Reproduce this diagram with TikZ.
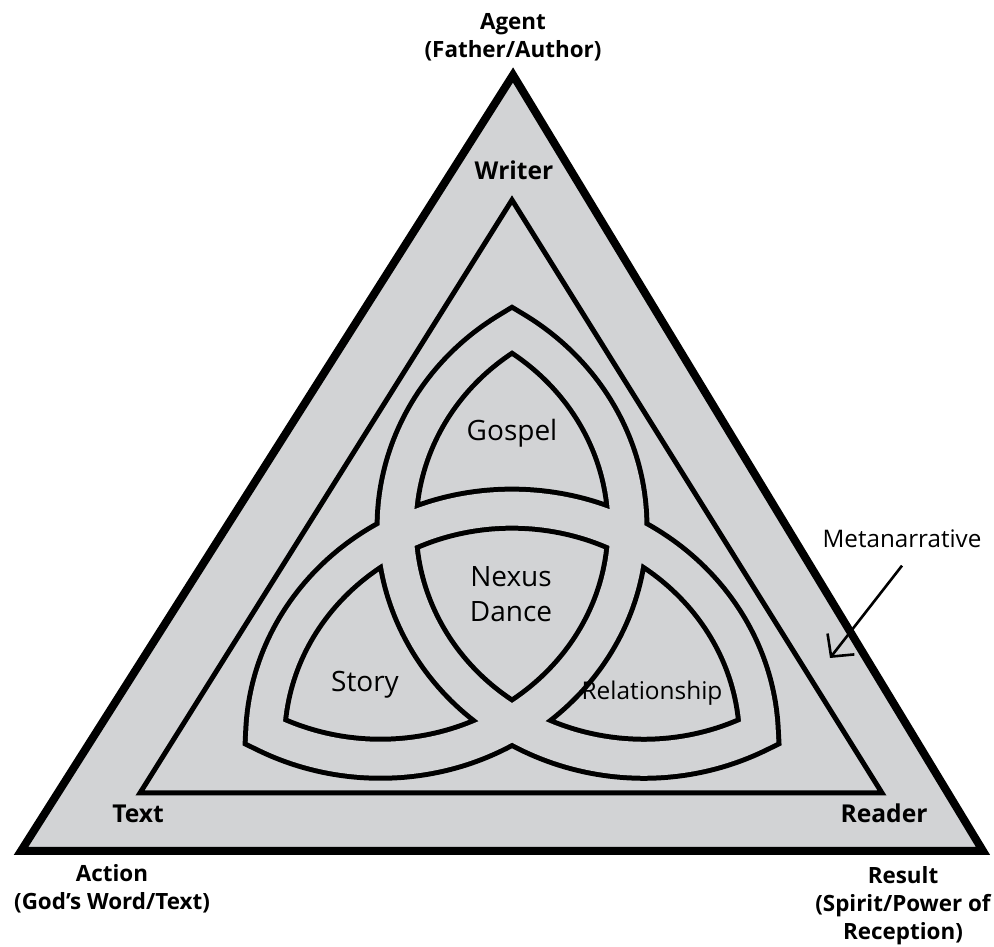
\documentclass[tikz,border=0pt]{standalone}
\usepackage{fontspec}
\setmainfont{Open Sans}
\usepackage{tikz}
\usetikzlibrary{arrows.meta}
\definecolor{panelgray}{RGB}{210,211,213}

\begin{document}
\begin{tikzpicture}[x=0.5pt, y=0.5pt,
    corner/.style={font=\bfseries\fontsize{12.3}{14}\selectfont, inner sep=0pt, anchor=base},
    role/.style={font=\bfseries\fontsize{11.2}{14}\selectfont, inner sep=0pt, anchor=base, align=center},
    region/.style={font=\fontsize{14}{17.5}\selectfont, inner sep=0pt, anchor=base, align=center},
    knotgap/.style={draw=panelgray, line width=17pt, line join=miter}]
    \useasboundingbox (0,0) rectangle (994,946);

    % outer and inner triangle
    \coordinate (otop) at (513,871);
    \coordinate (oleft) at (21,95);
    \coordinate (oright) at (983,95);
    \coordinate (itop) at (512,746);
    \coordinate (ileft) at (140,153);
    \coordinate (iright) at (882,153);
    \draw[line width=4pt, line join=miter, fill=panelgray] (otop) -- (oleft) -- (oright) -- cycle;
    \draw[line width=2.5pt, line join=miter] (itop) -- (ileft) -- (iright) -- cycle;

    % the knot, black band first then the gray gap on top
    % (starts and ends on a smooth part of the first arc)
    \begin{scope}[shift={(512,348)}, yscale=0.94]
        \draw[knotgap, preaction={draw=black, line width=22pt, line join=miter}]
            (115.4,76) arc[start angle=0, end angle=-117.8, radius=247]
            arc[start angle=177.8, end angle=2.2, radius=247]
            arc[start angle=-62.2, end angle=-237.8, radius=247]
            arc[start angle=57.8, end angle=-2, radius=247];
    \end{scope}

    % labels
    \node[role] (agent) at (513,888) {Agent\\(Father/Author)};
    \node[corner] (writer) at (514,766) {Writer};
    \node[corner] (text) at (138,123) {Text};
    \node[corner] (reader) at (884,123) {Reader};
    \node[role] (action) at (112,36) {Action\\(God’s Word/Text)};
    \node[role] (result) at (903,6) {Result\\(Spirit/Power of\\Reception)};

    \node[region] (gospel) at (512,505) {Gospel};
    \node[region] (nexus) at (511,324) {Nexus\\Dance};
    \node[region] (story) at (365,254) {Story};
    \node[region, font=\fontsize{12.2}{14}\selectfont] (relation) at (652,246) {Relationship};

    \node[font=\fontsize{12.1}{14}\selectfont, inner sep=0pt, anchor=base] (meta) at (902,398) {Metanarrative};
    \coordinate (metatip) at (830,288);
    \draw[line width=1.3pt, -{Straight Barb[length=8pt, width=17pt]}] ([yshift=-8.5pt]meta.south) -- (metatip);
\end{tikzpicture}
\end{document}
